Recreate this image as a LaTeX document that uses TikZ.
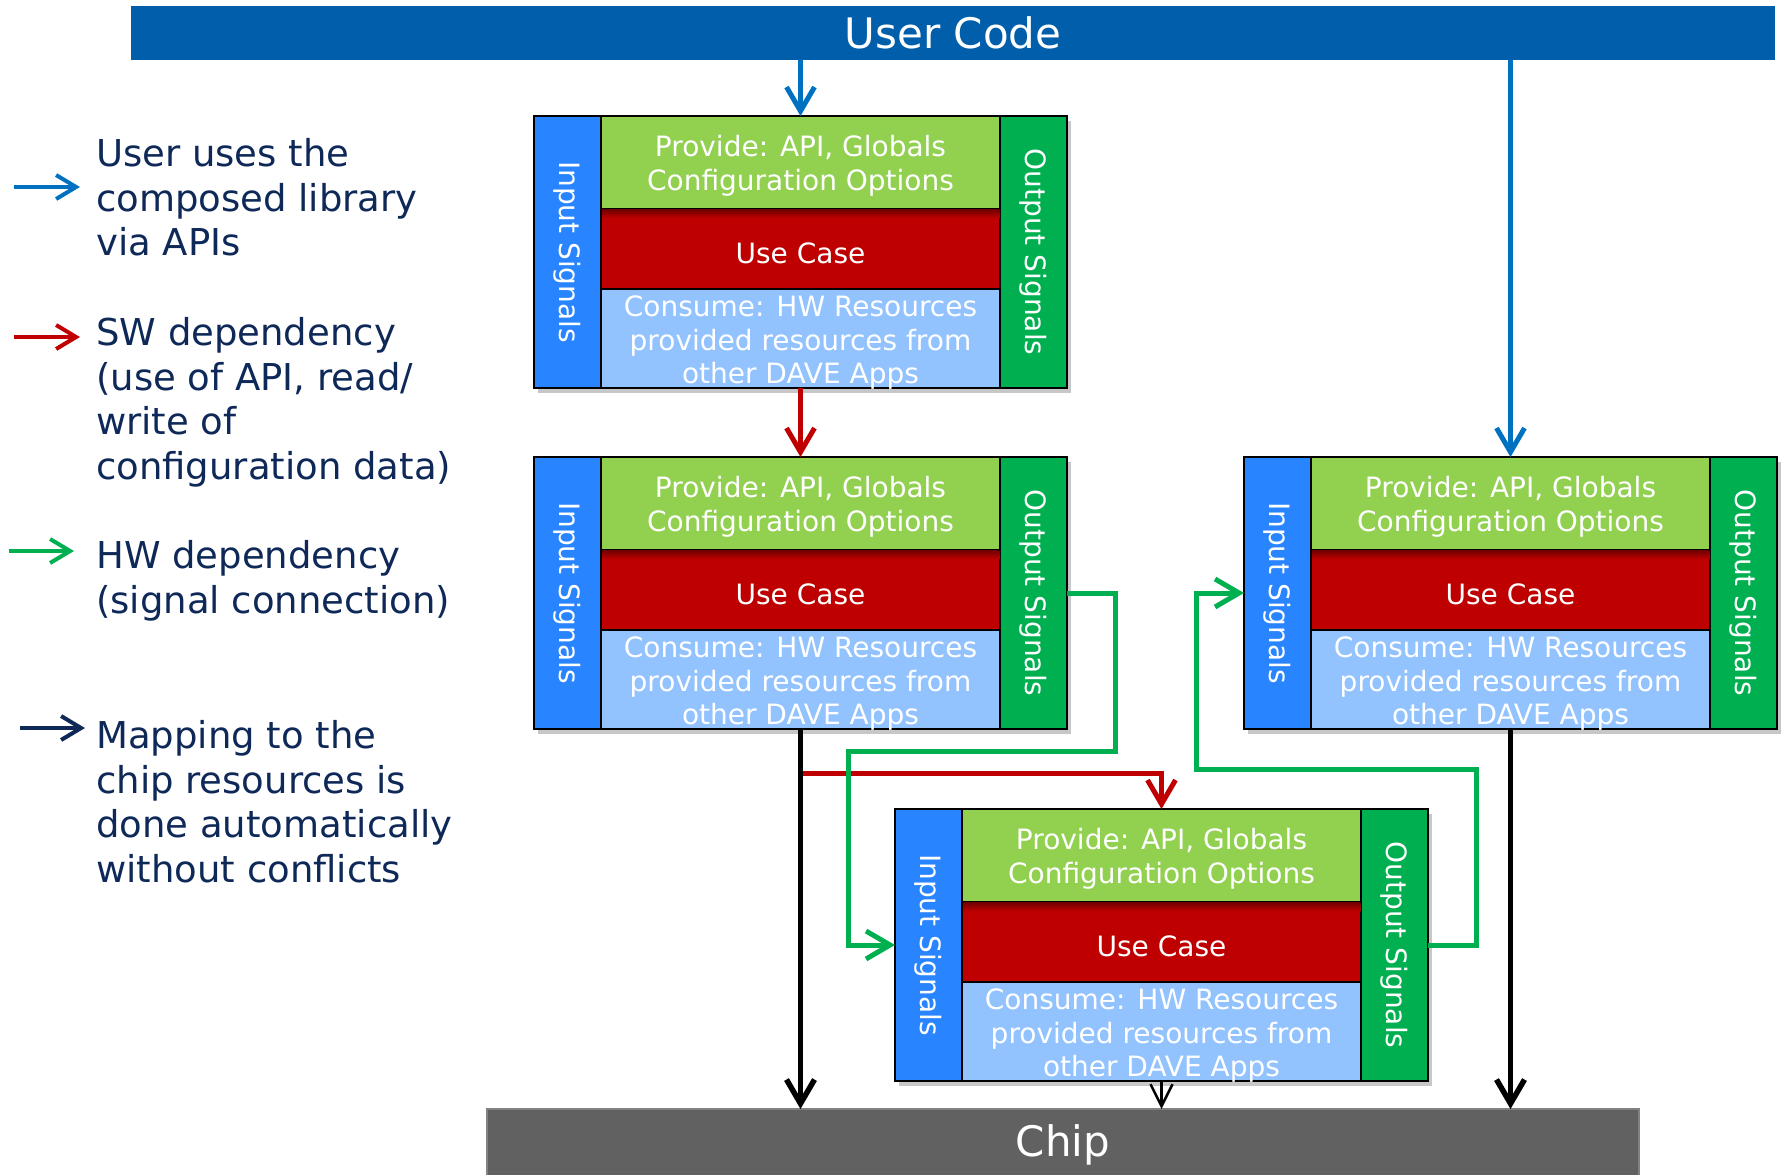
\documentclass[tikz,border=0pt]{standalone}
\usepackage{fontspec}
\setmainfont{DejaVu Sans}
\usetikzlibrary{arrows.meta,shadows,calc}

\definecolor{ucblue}{RGB}{0,94,170}
\definecolor{apiblue}{RGB}{0,112,192}
\definecolor{swred}{RGB}{192,0,0}
\definecolor{hwgreen}{RGB}{0,176,80}
\definecolor{navy}{RGB}{14,40,88}
\definecolor{instripc}{RGB}{41,133,255}
\definecolor{provc}{RGB}{146,208,80}
\definecolor{usec}{RGB}{190,0,0}
\definecolor{usedark}{RGB}{115,0,0}
\definecolor{consc}{RGB}{146,195,255}
\definecolor{outstripc}{RGB}{0,176,80}
\definecolor{chipc}{RGB}{97,97,97}
\definecolor{chipedge}{RGB}{130,130,130}

\tikzset{
  part/.style={draw=black, line width=1.5pt, inner sep=0pt, outer sep=0pt, anchor=north west},
  appframe/.style={fill=white, inner sep=0pt, outer sep=0pt, anchor=north west,
    minimum width=533pt, minimum height=272pt,
    drop shadow={shadow xshift=4pt, shadow yshift=-5pt, opacity=0.22, fill=black}},
  instrip/.style={part, fill=instripc, minimum width=67pt, minimum height=272pt},
  outstrip/.style={part, fill=outstripc, minimum width=67pt, minimum height=272pt},
  provpart/.style={part, fill=provc, minimum width=399pt, minimum height=93pt},
  usepart/.style={part, fill=usec, minimum width=399pt, minimum height=80pt},
  conspart/.style={part, fill=consc, minimum width=399pt, minimum height=99pt},
  frameline/.style={draw=black, line width=2.5pt},
  apptext/.style={text=white, inner sep=0pt, align=center,
    font=\fontsize{28}{33.5}\selectfont},
  legtext/.style={text=navy, inner sep=0pt, align=left, anchor=north west,
    font=\fontsize{37}{44.5}\selectfont},
  bigbar/.style={inner sep=0pt, outer sep=0pt, anchor=north west, text=white,
    font=\fontsize{42}{50}\selectfont},
  conn/.style={line width=5pt, -{Straight Barb[length=24pt, width=28pt]}},
  apiarrow/.style={conn, draw=apiblue},
  swarrow/.style={conn, draw=swred},
  hwarrow/.style={conn, draw=hwgreen},
  maparrow/.style={conn, line width=5.5pt, draw=black},
  thinmap/.style={line width=2.5pt, draw=black, -{Straight Barb[length=22pt, width=22pt]}},
  legarrow/.style={line width=4pt, -{Straight Barb[length=20pt, width=24pt]}},
}

% One DAVE app block: name, left x, top y
\newcommand{\dapp}[3]{%
  \node[appframe] (#1) at (#2,#3) {};
  \node[instrip] (#1-in) at (#1.north west) {};
  \node[outstrip, anchor=north east] (#1-out) at (#1.north east) {};
  \node[provpart] (#1-prov) at (#1-in.north east) {};
  \node[usepart] (#1-use) at (#1-prov.south west) {};
  \node[conspart] (#1-cons) at (#1-use.south west) {};
  \shade[top color=usedark, bottom color=usec]
    ([xshift=0.75pt,yshift=-0.75pt]#1-use.north west) rectangle
    ([xshift=-0.75pt,yshift=-9pt]#1-use.north east);
  \draw[frameline] (#1.north west) rectangle (#1.south east);
  \node[apptext, rotate=-90] (#1-intxt) at (#1-in.center) {Input Signals};
  \node[apptext, rotate=-90] (#1-outtxt) at (#1-out.center) {Output Signals};
  \node[apptext] (#1-provtxt) at ([yshift=-3.5pt]#1-prov.center) {Provide: API, Globals\\Configuration Options};
  \node[apptext] (#1-usetxt) at ([yshift=-4.5pt]#1-use.center) {Use Case};
  \node[apptext] (#1-constxt) at ([yshift=-4.5pt]#1-cons.center) {Consume: HW Resources\\provided resources from\\other DAVE Apps};
}

\begin{document}
\begin{tikzpicture}[x=1pt, y=-1pt]
\useasboundingbox (0,0) rectangle (1781,1175);

% top and bottom bars
\node[bigbar, fill=ucblue, minimum width=1644pt, minimum height=54pt] (uc) at (131,6) {User Code};
\node[bigbar, fill=chipc, draw=chipedge, line width=2pt, minimum width=1152pt, minimum height=72pt] (chip) at (487,1109) {Chip};

% app blocks
\dapp{b1}{534}{116}
\dapp{b2}{534}{457}
\dapp{b3}{1244}{457}
\dapp{b4}{895}{809}

% user code to apps
\draw[apiarrow] (uc.south -| b1.north) -- (b1.north);
\draw[apiarrow] (uc.south -| b3.north) -- (b3.north);

% software dependencies
\draw[swarrow] (b1.south) -- (b2.north);
\draw[swarrow] ([yshift=-44pt]b2.south) -| (b4.north);

% hardware signal connections
\draw[hwarrow] (b2.east) -- ++(48,0) -- ++(0,158) -| ([xshift=-47pt]b4.west) -- (b4.west);
\draw[hwarrow] (b4.east) -- ++(48,0) -- ++(0,-176) -| ([xshift=-48pt]b3.west) -- (b3.west);

% mapping to chip resources
\draw[maparrow] (b2.south) -- (b2.south |- chip.north);
\draw[maparrow] (b3.south) -- (b3.south |- chip.north);
\draw[thinmap] (b4.south) -- (b4.south |- chip.north);

% legend
\coordinate (k1a) at (14,187);  \coordinate (k1b) at (80,187);
\coordinate (k2a) at (14,337);  \coordinate (k2b) at (80,337);
\coordinate (k3a) at (9,551);   \coordinate (k3b) at (74,551);
\coordinate (k4a) at (20,728);  \coordinate (k4b) at (85,728);
\draw[legarrow, draw=apiblue] (k1a) -- (k1b);
\draw[legarrow, draw=swred] (k2a) -- (k2b);
\draw[legarrow, draw=hwgreen] (k3a) -- (k3b);
\draw[legarrow, draw=navy] (k4a) -- (k4b);
\node[legtext] (t1) at (96,138.5) {User uses the\\composed library\\via APIs};
\node[legtext] (t2) at (96,317.5) {SW dependency\\(use of API, read/\\write of\\configuration data)};
\node[legtext] (t3) at (96,540.5) {HW dependency\\(signal connection)};
\node[legtext] (t4) at (96,720.5) {Mapping to the\\chip resources is\\done automatically\\without conflicts};
\end{tikzpicture}
\end{document}
